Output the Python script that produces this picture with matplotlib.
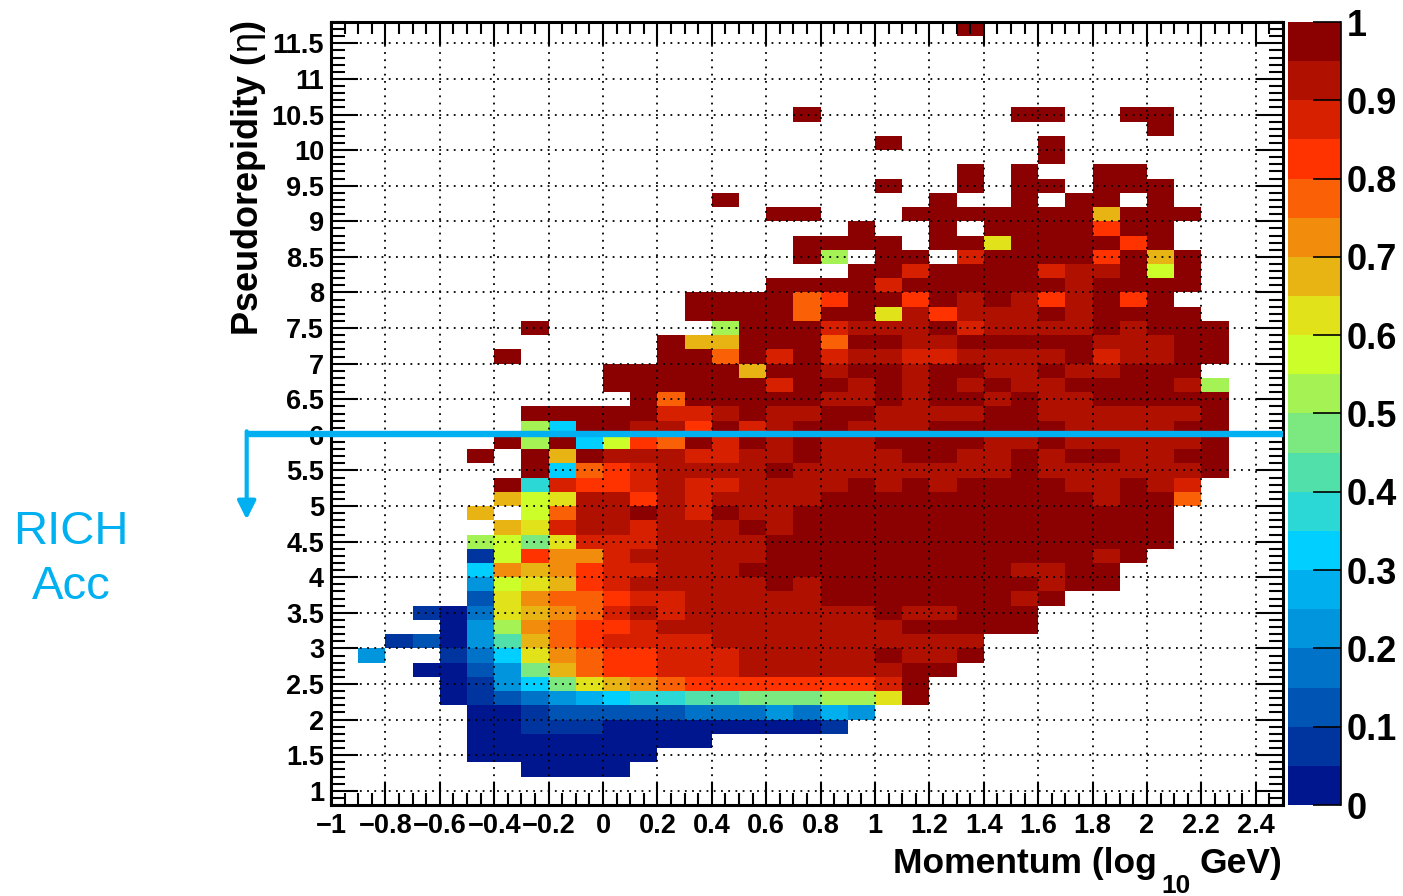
# Importing Required Libraries
import numpy as np
import matplotlib
matplotlib.use('Agg')
import matplotlib.pyplot as plt
from matplotlib.colors import ListedColormap, BoundaryNorm

# Fonts
plt.rcParams['font.family'] = ['Liberation Sans', 'DejaVu Sans']
plt.rcParams['mathtext.fontset'] = 'custom'
plt.rcParams['mathtext.rm'] = 'Liberation Sans:bold'
plt.rcParams['mathtext.bf'] = 'Liberation Sans:bold'
plt.rcParams['mathtext.it'] = 'Liberation Sans:italic'
plt.rcParams['mathtext.sf'] = 'Liberation Sans'

# Palette, lowest level first
level_colors = ['#00168E', '#0035A0', '#0055B4', '#0073C8', '#0095DC',
                '#00B0EE', '#00CFFF', '#2BD8D5', '#52E0AA', '#7BE980',
                '#A5F255', '#CCFF2A', '#E1E21A', '#E8B414', '#F28C0C',
                '#FA6005', '#FF3300', '#D62000', '#B01000', '#8B0000']

# One character per bin = colour level 0-9,a-j (each level is 0.05 wide), '.' = empty
level_chars = '0123456789abcdefghij'

# Rows from the top bin (eta 11.6-11.8) down to the bottom bin (eta 0.8-1.0)
rows = [
    '..... ..... ..... ..... ...j. ..... .....',
    '..... ..... ..... ..... ..... ..... .....',
    '..... ..... ..... ..... ..... ..... .....',
    '..... ..... ..... ..... ..... ..... .....',
    '..... ..... ..... ..... ..... ..... .....',
    '..... ..... ..... ..... ..... ..... .....',
    '..... ..... ..... ..j.. ..... jj..j j....',
    '..... ..... ..... ..... ..... ..... j....',
    '..... ..... ..... ..... j.... .j... .....',
    '..... ..... ..... ..... ..... .j... .....',
    '..... ..... ..... ..... ...j. j..jj .....',
    '..... ..... ..... ..... j..j. jj.jj j....',
    '..... ..... ....j ..... ..j.. j.jj. j....',
    '..... ..... ..... .jj.. .jjjj jjjdj jj...',
    '..... ..... ..... ....j ..j.j jjjgj j....',
    '..... ..... ..... ..jjj j.jjc jjjjg j....',
    '..... ..... ..... ..ja. jj.hj jjjgj dj...',
    '..... ..... ..... ....j jhjjj jhiij bj...',
    '..... ..... ..... .jjjj hjjjj jjijj jj...',
    '..... ..... ...jj jjfgj jgjij igijg j....',
    '..... ..... ...jj jjfjj cigii ijijj jj...',
    '..... ..j.. ....a jjjhi iijhi iiiji jjj..',
    '..... ..... ..jdd jjjfj jiijj jjjii ijj..',
    '..... .j... ..jjf jhjhi ihhii iijhi ijj..',
    '..... ..... jjjjj djjij jijji ijiij jj...',
    '..... ..... jjjjj jhjji jijij iijjj jia..',
    '..... ..... .jfjj jjjii jijji jiijj jjj..',
    '..... ..jjj jjhhi jiijj iiiij jiiii iij..',
    '..... ..a6j jiigj hijji iijjj jjiii ijj..',
    '..... .jaj6 bgfjh jijii jjjji ijiii iij..',
    '..... j.jdj iiihh iijii ijjii jijji ijj..',
    '..... ..j6f ghiii ijiii iiiii jiiii iij..',
    '..... .j7hg ghihh iiiij ijijj jjiij ih...',
    '..... .dbci igihi iiijj jjjjj jjjij jf...',
    '..... d.bfi ijihj iijjj jjjjj jjjjj j....',
    '..... .dchi ihiii jijjj jjjjj jjjjj j....',
    '..... ab9ch hhiii ijjjj jjjjj jjjjj j....',
    '..... 1bgee hiiii ijjjj jjjjj jjjij .....',
    '..... 6edeg hhiii jjjjj jjjjj iijj. .....',
    '..... 4bcdg hiiii ijijj jjjjj jijj. .....',
    '..... 2ceff ghhii iiijj jjjjj ij... .....',
    '...10 3cdef hihii iiiii jiijj j.... .....',
    '....0 4aefg ghiii iiiii ijjjj j.... .....',
    '..120 48dfg hhhhi iiiii iiii. ..... .....',
    '.4..1 36cef gghhh iiiii jiij. ..... .....',
    '...00 249df gghhh iiiii ijj.. ..... .....',
    '....0 1469c defgg ggggg hj... ..... .....',
    '....0 12345 67788 999aa cj... ..... .....',
    '..... 00122 22233 34354 ..... ..... .....',
    '..... 00111 00000 0001. ..... ..... .....',
    '..... 00000 0000. ..... ..... ..... .....',
    '..... 00000 00... ..... ..... ..... .....',
    '..... ..000 0.... ..... ..... ..... .....',
    '..... ..... ..... ..... ..... ..... .....',
    '..... ..... ..... ..... ..... ..... .....',
]

# Tick labels
x_ticks = [-1, -0.8, -0.6, -0.4, -0.2, 0, 0.2, 0.4, 0.6, 0.8, 1, 1.2, 1.4, 1.6, 1.8, 2, 2.2, 2.4]
x_labels = ['\u22121', '\u22120.8', '\u22120.6', '\u22120.4', '\u22120.2', '0', '0.2', '0.4', '0.6',
            '0.8', '1', '1.2', '1.4', '1.6', '1.8', '2', '2.2', '2.4']
y_ticks = [1, 1.5, 2, 2.5, 3, 3.5, 4, 4.5, 5, 5.5, 6, 6.5, 7, 7.5, 8, 8.5, 9, 9.5, 10, 10.5, 11, 11.5]
y_labels = ['1', '1.5', '2', '2.5', '3', '3.5', '4', '4.5', '5', '5.5', '6', '6.5', '7', '7.5',
            '8', '8.5', '9', '9.5', '10', '10.5', '11', '11.5']
bar_ticks = [0, 0.1, 0.2, 0.3, 0.4, 0.5, 0.6, 0.7, 0.8, 0.9, 1]
bar_labels = ['0', '0.1', '0.2', '0.3', '0.4', '0.5', '0.6', '0.7', '0.8', '0.9', '1']

# Turning the rows into an efficiency array, bottom row first
values = np.full((len(rows), 35), np.nan)
for r, row in enumerate(reversed(rows)):
    for c, ch in enumerate(row.replace(' ', '')):
        if ch != '.':
            values[r, c] = (level_chars.index(ch) + 0.5) * 0.05

# Bin edges
x_edges = np.linspace(-1, 2.5, 36)
y_edges = np.linspace(0.8, 11.8, 56)

W, H = 1403, 896
fig = plt.figure(figsize=(W / 100, H / 100), dpi=100)
ax = fig.add_axes([331 / W, 1 - 805 / H, (1283 - 331) / W, (805 - 22) / H])

# Heat map with 20 discrete colours
cmap = ListedColormap(level_colors)
norm = BoundaryNorm(np.linspace(0, 1, 21), 20)
mesh = ax.pcolormesh(x_edges, y_edges, np.ma.masked_invalid(values), cmap=cmap, norm=norm)

ax.set_xlim(-1, 2.5)
ax.set_ylim(0.8, 11.8)

# Ticks on all sides, pointing inwards
ax.set_xticks(x_ticks)
ax.set_xticklabels(x_labels, fontsize=19.5, fontweight='bold')
ax.set_yticks(y_ticks)
ax.set_yticklabels(y_labels, fontsize=19.5, fontweight='bold')
ax.set_xticks(np.arange(-1, 2.5001, 0.05), minor=True)
ax.set_yticks(np.arange(0.8, 11.8001, 0.1), minor=True)
ax.tick_params(axis='x', which='major', direction='in', top=True, length=16.5, width=1.5, pad=6)
ax.tick_params(axis='x', which='minor', direction='in', top=True, length=8.5, width=1.5)
ax.tick_params(axis='y', which='major', direction='in', right=True, length=19.5, width=1.5, pad=5)
ax.tick_params(axis='y', which='minor', direction='in', right=True, length=10, width=1.5)
for spine in ax.spines.values():
    spine.set_linewidth(2.2)

# Dotted grid over the cells
ax.set_axisbelow(False)
ax.grid(True, which='major', color='k', linewidth=1.3, linestyle=(0, (1, 3)))

# Axis titles, the subscript is a separate text so it can sit lower
fig.text(1157 / W, 1 - 873 / H, 'Momentum (log', ha='right', va='baseline', fontsize=25.5, fontweight='bold')
fig.text(1161 / W, 1 - 893 / H, '10', ha='left', va='baseline', fontsize=19, fontweight='bold')
fig.text(1282 / W, 1 - 873 / H, 'GeV)', ha='right', va='baseline', fontsize=25.5, fontweight='bold')
fig.text(249 / W, 1 - 21 / H, r'Pseudorepidity ($\mathsf{\eta}$)', rotation=90, ha='center', va='top',
         fontsize=26, fontweight='bold')

# Colour bar
cax = fig.add_axes([1288 / W, 1 - 805 / H, (1341 - 1288) / W, (805 - 22) / H])
cbar = fig.colorbar(mesh, cax=cax, spacing='uniform', drawedges=False)
cbar.set_ticks(bar_ticks)
cbar.set_ticklabels(bar_labels)
cbar.ax.minorticks_off()
cbar.outline.set_visible(False)
cax.tick_params(axis='y', direction='in', length=20, width=1.2, pad=4, labelsize=26)
for label in cax.get_yticklabels():
    label.set_fontweight('bold')
cax.axvline(cax.get_xlim()[1], color='k', linewidth=1.2, clip_on=False)

# RICH acceptance marker
rich_color = '#00B0F0'
ax.plot([-1.31, 2.5], [6.01, 6.01], color=rich_color, linewidth=4.6, clip_on=False, zorder=6,
        solid_capstyle='butt')
ax.annotate('', xy=(-1.31, 4.81), xytext=(-1.31, 6.05), annotation_clip=False, zorder=6,
            arrowprops=dict(arrowstyle='-|>,head_width=0.55,head_length=1.1', color=rich_color,
                            linewidth=3, shrinkA=0, shrinkB=0))
fig.text(71 / W, 1 - 544 / H, 'RICH', color=rich_color, ha='center', va='baseline', fontsize=34)
fig.text(71 / W, 1 - 599 / H, 'Acc', color=rich_color, ha='center', va='baseline', fontsize=34)

# Saving the figure
fig.savefig('out.png', dpi=100)
